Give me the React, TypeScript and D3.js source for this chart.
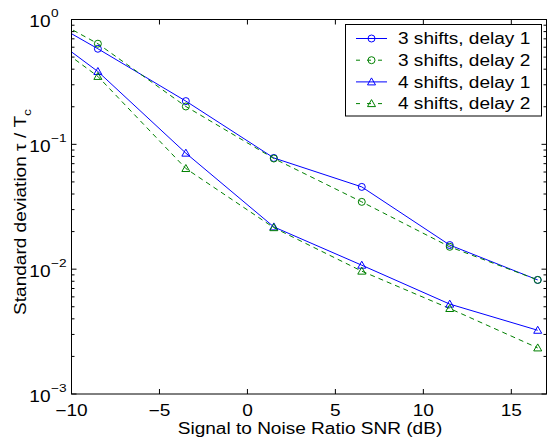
import React from "react";
import * as d3 from "d3";

const snr = [-13.5, -8.5, -3.5, 1.5, 6.5, 11.5, 16.5];
const shifts3Delay1 = [1.47, 0.583, 0.222, 0.0778, 0.0456, 0.0156, 0.0082];
const shifts3Delay2 = [1.55, 0.64, 0.201, 0.077, 0.0346, 0.0151, 0.0082];
const shifts4Delay1 = [1.28, 0.383, 0.085, 0.0218, 0.01076, 0.00525, 0.00324];
const shifts4Delay2 = [1.16, 0.35, 0.064, 0.0215, 0.00964, 0.00484, 0.00234];
const seriesNames = ["3 shifts, delay 1", "3 shifts, delay 2", "4 shifts, delay 1", "4 shifts, delay 2"];
const xTicks = [-10, -5, 0, 5, 10, 15];
const yExponents = [0, -1, -2, -3];

const W = 550, H = 438;
const L = 71.5, R = 546.5, T = 19.5, B = 394;
const FONT = "'Liberation Sans', Arial, Helvetica, sans-serif";
const FS = 16;
const SX = 1.19;

const series = [
  { name: seriesNames[0], values: shifts3Delay1, color: "#0000ff", dash: null, marker: "circle" },
  { name: seriesNames[1], values: shifts3Delay2, color: "#008000", dash: "5,4", marker: "circle" },
  { name: seriesNames[2], values: shifts4Delay1, color: "#0000ff", dash: null, marker: "triangle" },
  { name: seriesNames[3], values: shifts4Delay2, color: "#008000", dash: "5,4", marker: "triangle" },
];

function Txt({ x, y, anchor = "start", size = FS, rotate = 0, children }: any) {
  return (
    <text
      transform={`translate(${x},${y})${rotate ? ` rotate(${rotate})` : ""} scale(${SX},1)`}
      textAnchor={anchor}
      fontSize={size}
    >
      {children}
    </text>
  );
}

function Marker({ type, x, y, color }: { type: string; x: number; y: number; color: string }) {
  if (type === "circle") return <circle cx={x} cy={y} r={3.5} fill="none" stroke={color} strokeWidth={1} />;
  const s = 4;
  return <path d={`M${x},${y - s}L${x + s},${y + s * 0.75}L${x - s},${y + s * 0.75}Z`} fill="none" stroke={color} strokeWidth={1} />;
}

export default function App() {
  const x = d3.scaleLinear().domain([-10, 17]).range([L, R]);
  const y = d3.scaleLog().domain([1e-3, 1]).range([B, T]);
  const line = d3.line<number>().x((_, i) => x(snr[i])).y((v) => y(v));
  const minor: number[] = [];
  for (const e of [-3, -2, -1]) for (let m = 2; m <= 9; m++) minor.push(m * Math.pow(10, e));

  return (
    <svg width={W} height={H} style={{ position: "absolute", left: 0, top: 0, background: "#fff" }} fontFamily={FONT}>
      <rect x={0} y={0} width={W} height={H} fill="#fff" />
      <defs>
        <clipPath id="plotclip">
          <rect x={L} y={T} width={R - L} height={B - T} />
        </clipPath>
      </defs>
      <g clipPath="url(#plotclip)">
        {series.map((s) => (
          <path key={s.name} d={line(s.values) || ""} fill="none" stroke={s.color} strokeWidth={1} strokeDasharray={s.dash || undefined} />
        ))}
      </g>
      {series.map((s) =>
        s.values.map((v, i) =>
          snr[i] >= -10 ? <Marker key={s.name + i} type={s.marker} x={x(snr[i])} y={y(v)} color={s.color} /> : null
        )
      )}
      <rect x={L} y={T} width={R - L} height={B - T} fill="none" stroke="#000" strokeWidth={1} />
      {xTicks.map((t) => (
        <g key={"xt" + t}>
          <line x1={x(t)} x2={x(t)} y1={B} y2={B - 5} stroke="#000" />
          <line x1={x(t)} x2={x(t)} y1={T} y2={T + 5} stroke="#000" />
          <Txt x={x(t)} y={415.5} anchor="middle">{t < 0 ? "\u2212" + Math.abs(t) : String(t)}</Txt>
        </g>
      ))}
      {yExponents.map((e) => {
        const yy = y(Math.pow(10, e));
        return (
          <g key={"yt" + e}>
            <line x1={L} x2={L + 5} y1={yy} y2={yy} stroke="#000" />
            <line x1={R} x2={R - 5} y1={yy} y2={yy} stroke="#000" />
            <Txt x={50.5} y={yy + 7.5} anchor="end">10</Txt>
            <Txt x={51} y={yy - 2.5} size={11.5}>{e < 0 ? "\u2212" + Math.abs(e) : String(e)}</Txt>
          </g>
        );
      })}
      {minor.map((m) => (
        <g key={"m" + m}>
          <line x1={L} x2={L + 3} y1={y(m)} y2={y(m)} stroke="#000" />
          <line x1={R} x2={R - 3} y1={y(m)} y2={y(m)} stroke="#000" />
        </g>
      ))}
      <Txt x={310} y={433.5} anchor="middle">Signal to Noise Ratio SNR (dB)</Txt>
      <Txt x={26} y={212} anchor="middle" rotate={-90}>
        Standard deviation τ / T<tspan fontSize={11.5} dy={5}>c</tspan>
      </Txt>
      <rect x={345.5} y={24.5} width={196} height={91.5} fill="#fff" stroke="#000" strokeWidth={1} />
      {series.map((s, i) => {
        const ly = 38.5 + i * 21.7;
        return (
          <g key={"lg" + i}>
            <line x1={356} x2={387} y1={ly} y2={ly} stroke={s.color} strokeWidth={1} strokeDasharray={s.dash ? "4,7" : undefined} />
            <Marker type={s.marker} x={371.5} y={ly} color={s.color} />
            <Txt x={398} y={ly + 5.8}>{s.name}</Txt>
          </g>
        );
      })}
    </svg>
  );
}
